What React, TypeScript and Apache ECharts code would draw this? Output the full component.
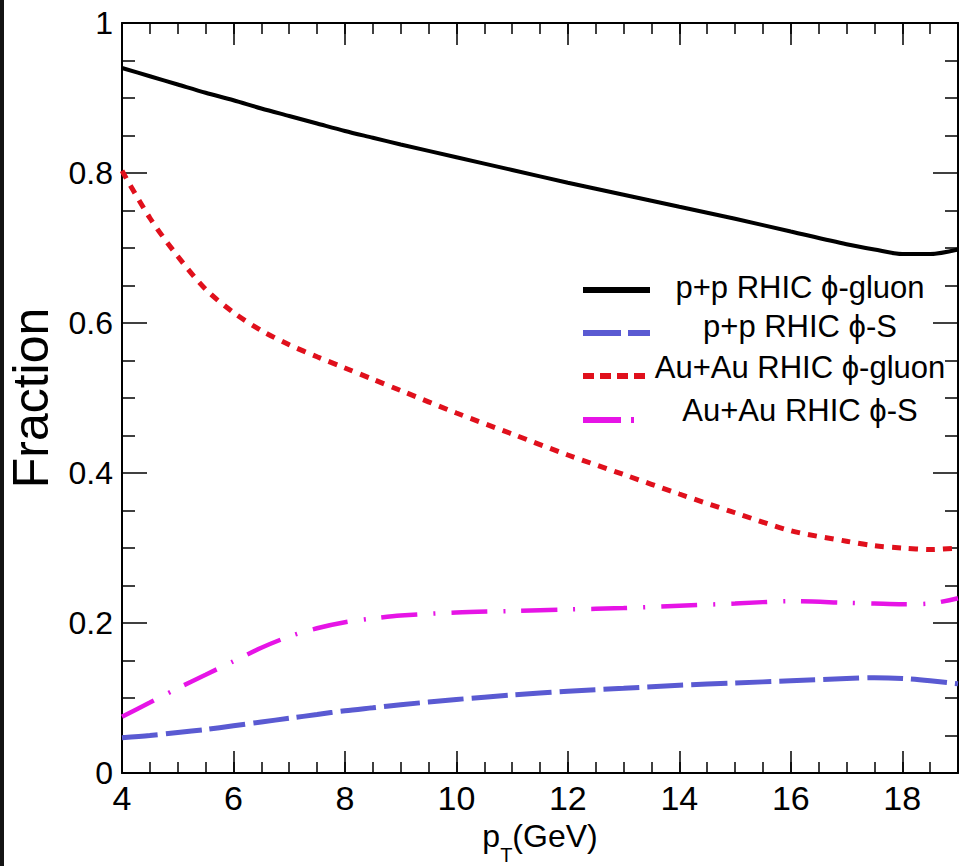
import React, { useEffect, useRef } from "react";
import * as echarts from "echarts";

const FONT = "'Liberation Sans', Arial, sans-serif";

const xValues = [4, 4.5, 5, 5.5, 6, 6.5, 7, 7.5, 8, 8.5, 9, 10, 11, 12, 13, 14, 15, 16, 17, 17.5, 18, 18.5, 19];
const ppGluon = [0.940, 0.929, 0.918, 0.907, 0.897, 0.886, 0.876, 0.866, 0.856, 0.847, 0.838, 0.821, 0.804, 0.787, 0.771, 0.755, 0.739, 0.722, 0.705, 0.698, 0.692, 0.692, 0.698];
const ppS = [0.047, 0.050, 0.054, 0.058, 0.063, 0.068, 0.073, 0.078, 0.083, 0.087, 0.091, 0.098, 0.104, 0.109, 0.113, 0.117, 0.120, 0.123, 0.126, 0.127, 0.126, 0.123, 0.119];
const auGluon = [0.803, 0.740, 0.689, 0.645, 0.614, 0.590, 0.571, 0.555, 0.540, 0.525, 0.510, 0.480, 0.452, 0.424, 0.398, 0.372, 0.347, 0.323, 0.309, 0.303, 0.300, 0.298, 0.300];
const auS = [0.075, 0.094, 0.113, 0.131, 0.149, 0.167, 0.182, 0.193, 0.201, 0.206, 0.210, 0.214, 0.216, 0.218, 0.220, 0.223, 0.226, 0.229, 0.227, 0.226, 0.225, 0.226, 0.233];

const seriesNames = ["p+p RHIC ϕ-gluon", "p+p RHIC ϕ-S", "Au+Au RHIC ϕ-gluon", "Au+Au RHIC ϕ-S"];
const seriesColors = ["#000000", "#5a5ad2", "#e0101c", "#e614e6"];
const seriesDashes: any[] = ["solid", [36, 8], [9, 8], [36, 16, 2, 16]];
const seriesWidths = [4, 5, 5, 4.5];
const seriesData = [ppGluon, ppS, auGluon, auS];

const xMin = 4;
const xMax = 19;
const xMajor = 2;
const xMinor = 0.5;
const yMin = 0;
const yMax = 1;
const yMajor = 0.2;

export default function App() {
  const ref = useRef<HTMLDivElement>(null);
  useEffect(() => {
    if (!ref.current) return;
    const chart = echarts.init(ref.current, null, { renderer: "svg" });
    const black = "#000";
    const tickStyle = { color: black, width: 1.5 };
    const mkX = (pos: string, major: boolean, labels: boolean, name?: any) => ({
      type: "value",
      position: pos,
      min: xMin,
      max: xMax,
      interval: major ? xMajor : xMinor,
      axisLine: { show: major, onZero: false, lineStyle: { color: black, width: 2 } },
      axisTick: { show: true, inside: true, length: major ? 22 : 11, lineStyle: tickStyle },
      splitLine: { show: false },
      axisLabel: labels
        ? { show: true, fontSize: 34, color: black, fontFamily: FONT, margin: 8, showMaxLabel: false }
        : { show: false },
      ...(name || {}),
    });
    const xName = {
      name: "{p|p}{t|T}{g|(GeV)}",
      nameLocation: "middle",
      nameGap: 45,
      nameTextStyle: {
        color: black,
        fontFamily: FONT,
        verticalAlign: "top",
        rich: {
          p: { fontSize: 32, lineHeight: 36, verticalAlign: "top", fontFamily: FONT, color: black },
          t: { fontSize: 20, lineHeight: 20, padding: [25, 0, 0, 0], verticalAlign: "top", fontFamily: FONT, color: black },
          g: { fontSize: 32, lineHeight: 36, verticalAlign: "top", fontFamily: FONT, color: black },
        },
      },
    };
    const mkY = (pos: string, labels: boolean, name?: any) => ({
      type: "value",
      position: pos,
      min: yMin,
      max: yMax,
      interval: yMajor,
      axisLine: { show: true, onZero: false, lineStyle: { color: black, width: 2 } },
      axisTick: { show: true, inside: true, length: 25, lineStyle: tickStyle },
      minorTick: { show: true, splitNumber: 4, length: 13, lineStyle: tickStyle },
      splitLine: { show: false },
      minorSplitLine: { show: false },
      axisLabel: labels ? { show: true, fontSize: 32, color: black, fontFamily: FONT, margin: 9 } : { show: false },
      ...(name || {}),
    });

    const legendTop = [287, 326, 367, 410];
    const legendLineY = [290, 333, 376, 420];
    const legendGraphics: any[] = [];
    seriesNames.forEach((n, i) => {
      const dash = seriesDashes[i];
      legendGraphics.push({
        type: "line",
        shape: { x1: 583, y1: legendLineY[i], x2: 650, y2: legendLineY[i] },
        style: {
          stroke: seriesColors[i],
          lineWidth: 6,
          lineDash: dash === "solid" ? null : i === 1 ? [38, 7] : i === 2 ? [11, 6] : [38, 10, 3, 30],
        },
        z: 10,
      });
      legendGraphics.push({
        type: "text",
        x: 800,
        y: legendTop[i],
        style: {
          text: n,
          fontSize: 31,
          fontFamily: FONT,
          fill: black,
          align: "center",
          verticalAlign: "middle",
        },
        z: 10,
      });
    });

    chart.setOption({
      animation: false,
      backgroundColor: "#fff",
      grid: { left: 122, right: 1, top: 23, bottom: 93, containLabel: false, outerBoundsMode: "none" },
      xAxis: [
        mkX("bottom", true, true, xName),
        mkX("bottom", false, false),
        mkX("top", true, false),
        mkX("top", false, false),
      ],
      yAxis: [
        mkY("left", true, {
          name: "Fraction",
          nameLocation: "middle",
          nameGap: 66,
          nameTextStyle: { fontSize: 50, color: black, fontFamily: FONT },
        }),
        mkY("right", false),
      ],
      series: seriesNames.map((n, i) => ({
        name: n,
        type: "line",
        xAxisIndex: 0,
        yAxisIndex: 0,
        showSymbol: false,
        symbol: "none",
        smooth: 0.3,
        data: xValues.map((x, k) => [x, seriesData[i][k]]),
        lineStyle: { color: seriesColors[i], width: seriesWidths[i], type: seriesDashes[i] },
        itemStyle: { color: seriesColors[i] },
      })),
      graphic: [
        { type: "rect", shape: { x: 0, y: 0, width: 4, height: 866 }, style: { fill: "#141414" }, z: 20 },
        ...legendGraphics,
      ],
    });
    return () => chart.dispose();
  }, []);
  return (
    <div
      ref={ref}
      style={{ position: "fixed", left: 0, top: 0, width: 959, height: 866, background: "#fff" }}
    />
  );
}
